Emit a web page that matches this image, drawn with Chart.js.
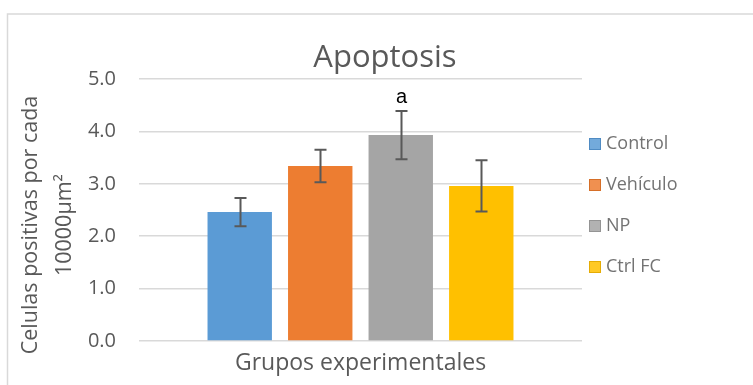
<!DOCTYPE html>
<html>
<head>
<meta charset="utf-8">
<script src="https://cdn.jsdelivr.net/npm/chart.js@4.4.1/dist/chart.umd.min.js"></script>
<style>
  html,body{margin:0;padding:0;background:#fff;}
  #wrap{width:753px;height:385px;position:relative;}
</style>
</head>
<body>
<div id="wrap"><canvas id="c"></canvas></div>
<script>
// data
const groups=['Control','Vehículo','NP','Ctrl FC'];
const means=[2.46,3.34,3.93,2.96];
const errors=[0.27,0.31,0.46,0.49];
const letters=['','','a',''];
const colors=['#5b9bd5','#ed7d31','#a5a5a5','#ffc000'];
const borders=['#4a86c0','#d26a22','#8f8f8f','#e0a800'];
const yTicks=[0,1,2,3,4,5];

const TXT='#595959', FONT='"Open Sans", sans-serif';

const extras={
  id:'extras',
  beforeDraw(chart){
    const ctx=chart.ctx;
    ctx.save();
    ctx.strokeStyle='#d9d9d9'; ctx.lineWidth=1.5;
    ctx.beginPath();
    ctx.moveTo(7.5,385); ctx.lineTo(7.5,14); ctx.lineTo(753,14);
    ctx.stroke();
    ctx.restore();
  },
  afterDatasetsDraw(chart){
    const ctx=chart.ctx, y=chart.scales.y, a=chart.chartArea;
    ctx.save();
    // error bars + significance letters
    chart.data.datasets.forEach((ds,i)=>{
      const bar=chart.getDatasetMeta(i).data[0];
      const x=Math.round(bar.x)+0.5;
      const top=y.getPixelForValue(means[i]+errors[i]);
      const bot=y.getPixelForValue(means[i]-errors[i]);
      ctx.strokeStyle='#595959'; ctx.lineWidth=2;
      ctx.beginPath();
      ctx.moveTo(x,top); ctx.lineTo(x,bot);
      ctx.moveTo(x-6,top); ctx.lineTo(x+6,top);
      ctx.moveTo(x-6,bot); ctx.lineTo(x+6,bot);
      ctx.stroke();
      if(letters[i]){
        ctx.fillStyle='#000'; ctx.font='20px "Liberation Sans", Arial, sans-serif';
        ctx.textAlign='center'; ctx.textBaseline='alphabetic';
        ctx.fillText(letters[i],x,top-8);
      }
    });
    // title
    ctx.fillStyle=TXT; ctx.textAlign='center'; ctx.textBaseline='alphabetic';
    ctx.font='31px '+FONT;
    ctx.fillText('Apoptosis',385,67);
    // x title
    ctx.font='23px '+FONT;
    ctx.fillText('Grupos experimentales',(a.left+a.right)/2,370);
    // y title (two lines, rotated)
    ctx.save();
    ctx.translate(0,225); ctx.rotate(-Math.PI/2);
    ctx.font='21.5px '+FONT;
    ctx.fillText('Celulas positivas por cada',0,37);
    ctx.fillText('10000µm²',0,71);
    ctx.restore();
    // legend
    ctx.font='18px '+FONT; ctx.textAlign='left'; ctx.textBaseline='middle';
    chart.data.datasets.forEach((ds,i)=>{
      const cy=144+i*41;
      ctx.fillStyle=ds.backgroundColor; ctx.globalAlpha=0.85;
      ctx.fillRect(589,cy-6,12,12);
      ctx.strokeStyle=borders[i]; ctx.lineWidth=1;
      ctx.strokeRect(589.5,cy-5.5,11,11);
      ctx.globalAlpha=1;
      ctx.fillStyle='#737373';
      ctx.fillText(ds.label,606,cy);
    });
    ctx.restore();
  }
};

new Chart(document.getElementById('c'),{
  type:'bar',
  data:{
    labels:[''],
    datasets:groups.map((g,i)=>({label:g,data:[means[i]],backgroundColor:colors[i],borderWidth:0}))
  },
  options:{
    responsive:true,maintainAspectRatio:false,animation:false,
    layout:{padding:{top:79,bottom:44,left:0,right:171}},
    datasets:{bar:{categoryPercentage:0.727,barPercentage:0.8}},
    plugins:{legend:{display:false},tooltip:{enabled:false},title:{display:false}},
    scales:{
      x:{display:false},
      y:{
        min:0,max:5,
        afterFit(s){s.width=139;},
        afterBuildTicks(s){s.ticks=yTicks.map(v=>({value:v}));},
        border:{display:false},
        grid:{color:'#d9d9d9',lineWidth:1.5,drawTicks:false},
        ticks:{padding:23,color:TXT,font:{family:'Open Sans',size:20},callback:v=>v.toFixed(1)}
      }
    }
  },
  plugins:[extras]
});
</script>
</body>
</html>
